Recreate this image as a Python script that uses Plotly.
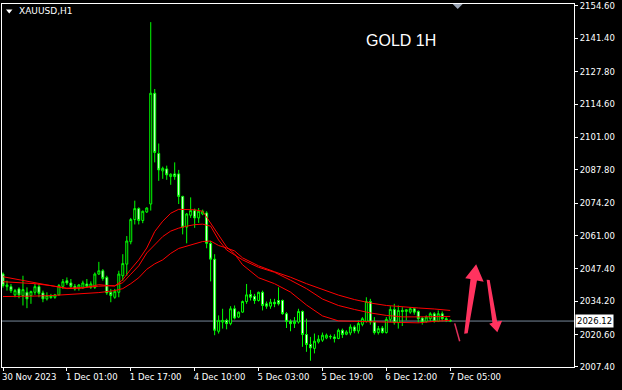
import plotly.graph_objects as go

# ---------------- data ----------------
tick_labels = ["30 Nov 2023", "1 Dec 01:00", "1 Dec 17:00", "4 Dec 10:00",
               "5 Dec 03:00", "5 Dec 19:00", "6 Dec 12:00", "7 Dec 05:00"]

opens = [2045.29, 2040.15, 2040.15, 2036.80, 2039.22, 2036.51, 2037.85, 2036.51, 2037.85, 2040.15,
         2037.60, 2035.18, 2035.70, 2035.82, 2036.80, 2040.27, 2042.58, 2041.65, 2040.27, 2039.46,
         2039.87, 2041.24, 2039.87, 2039.87, 2045.29, 2046.62, 2043.91, 2037.85, 2035.82, 2037.85,
         2044.60, 2049.33, 2058.47, 2067.53, 2071.98, 2067.13, 2070.60, 2073.84, 2119.01, 2094.46,
         2087.35, 2088.15, 2085.04, 2086.13, 2086.13, 2076.95, 2064.42, 2069.27, 2071.17, 2068.18,
         2069.79, 2070.20, 2057.82, 2051.35, 2021.95, 2025.71, 2026.40, 2025.07, 2031.13, 2027.74,
         2029.76, 2034.09, 2036.92, 2036.23, 2034.49, 2037.85, 2033.15, 2032.18, 2033.80, 2034.49,
         2034.49, 2029.11, 2026.00, 2025.07, 2025.71, 2030.04, 2020.62, 2016.58, 2014.96, 2017.63,
         2018.31, 2019.24, 2019.65, 2019.65, 2019.00, 2022.36, 2020.74, 2021.27, 2023.69, 2022.07,
         2024.78, 2026.00, 2034.09, 2025.71, 2021.43, 2023.29, 2021.43, 2026.81, 2030.85, 2025.47,
         2030.45, 2030.04, 2029.76, 2031.13, 2030.04, 2027.33, 2026.00, 2027.09, 2029.11, 2026.00,
         2029.11, 2027.09, 2026.40]
highs = [2045.93, 2042.58, 2041.24, 2039.22, 2039.87, 2044.60, 2039.87, 2038.53, 2041.24, 2041.24,
         2038.53, 2037.85, 2037.20, 2037.20, 2041.24, 2043.27, 2043.91, 2043.27, 2041.24, 2041.24,
         2042.58, 2043.27, 2042.29, 2045.93, 2050.26, 2047.31, 2044.60, 2039.22, 2039.22, 2046.62,
         2053.38, 2060.78, 2068.18, 2075.21, 2072.50, 2071.17, 2072.50, 2148.01, 2120.75, 2098.51,
         2089.08, 2089.49, 2086.38, 2090.82, 2087.75, 2077.20, 2070.20, 2076.55, 2071.98, 2072.22,
         2071.57, 2070.89, 2058.75, 2053.38, 2028.42, 2031.13, 2027.09, 2032.18, 2032.47, 2030.04,
         2034.49, 2041.24, 2038.82, 2037.20, 2038.13, 2038.53, 2034.09, 2035.18, 2035.18, 2039.87,
         2034.89, 2029.76, 2026.81, 2027.74, 2031.13, 2030.45, 2027.09, 2019.65, 2021.02, 2020.34,
         2021.43, 2021.02, 2020.62, 2020.74, 2023.05, 2023.05, 2022.36, 2024.78, 2024.38, 2026.40,
         2027.74, 2035.82, 2035.18, 2027.74, 2024.10, 2024.10, 2027.74, 2032.18, 2033.15, 2032.47,
         2031.78, 2030.85, 2031.78, 2031.38, 2030.45, 2027.74, 2028.42, 2029.76, 2029.76, 2030.45,
         2030.04, 2027.74, 2026.81]
lows = [2039.75, 2038.53, 2037.60, 2035.82, 2035.42, 2032.47, 2031.38, 2033.15, 2036.80, 2035.82,
        2033.80, 2034.49, 2035.18, 2035.18, 2036.51, 2039.22, 2040.84, 2039.22, 2038.53, 2038.53,
        2039.22, 2039.87, 2039.22, 2039.22, 2044.88, 2042.58, 2036.80, 2033.80, 2035.18, 2035.82,
        2042.58, 2044.60, 2057.42, 2065.51, 2065.51, 2066.03, 2070.20, 2071.17, 2090.82, 2083.30,
        2084.11, 2083.71, 2081.68, 2083.71, 2073.84, 2061.46, 2057.82, 2068.18, 2064.13, 2066.16,
        2069.27, 2055.80, 2042.29, 2020.34, 2021.02, 2023.05, 2022.76, 2024.38, 2026.81, 2027.33,
        2029.51, 2033.15, 2034.49, 2033.15, 2034.09, 2030.45, 2031.13, 2031.13, 2031.78, 2032.47,
        2028.71, 2023.29, 2021.95, 2023.29, 2025.07, 2015.61, 2013.58, 2009.94, 2012.94, 2016.98,
        2017.63, 2018.72, 2018.72, 2017.38, 2018.72, 2019.24, 2020.34, 2020.34, 2021.14, 2021.02,
        2023.98, 2025.47, 2024.66, 2020.62, 2020.62, 2021.02, 2021.02, 2025.71, 2024.66, 2023.05,
        2024.10, 2026.40, 2029.11, 2028.71, 2025.47, 2024.66, 2025.47, 2026.00, 2025.47, 2025.71,
        2026.00, 2025.71, 2025.71]
closes = [2040.56, 2040.84, 2038.53, 2038.53, 2036.80, 2038.94, 2035.18, 2038.13, 2040.15, 2037.44,
          2035.18, 2036.51, 2036.51, 2036.80, 2040.56, 2042.17, 2041.65, 2040.27, 2039.22, 2040.84,
          2041.65, 2040.27, 2041.24, 2045.29, 2046.62, 2043.51, 2037.60, 2036.51, 2038.25, 2045.29,
          2049.57, 2058.75, 2067.53, 2071.98, 2067.13, 2070.89, 2072.22, 2119.01, 2094.87, 2087.75,
          2088.40, 2085.73, 2085.97, 2085.04, 2076.95, 2064.42, 2069.79, 2071.17, 2068.18, 2070.89,
          2070.89, 2057.82, 2051.35, 2022.36, 2026.40, 2026.40, 2025.07, 2031.13, 2027.33, 2029.76,
          2034.09, 2036.80, 2035.82, 2034.49, 2037.85, 2032.47, 2032.18, 2033.80, 2033.15, 2033.15,
          2029.11, 2026.00, 2025.07, 2026.00, 2030.04, 2020.62, 2016.58, 2015.20, 2017.91, 2018.72,
          2020.34, 2020.34, 2019.81, 2019.00, 2022.36, 2020.62, 2021.67, 2023.69, 2022.07, 2025.07,
          2027.09, 2034.09, 2025.71, 2021.43, 2023.05, 2021.43, 2026.81, 2030.85, 2025.47, 2030.45,
          2030.04, 2030.73, 2031.13, 2029.76, 2027.09, 2025.71, 2027.74, 2029.11, 2026.00, 2029.11,
          2027.09, 2026.40, 2026.12]

# moving-average lines at these bar indices
ma_idx = [0, 4, 8, 12, 16, 20, 24, 28, 30, 32, 34, 36, 38, 40, 42, 44, 46, 48, 50, 52, 54, 56, 58, 60,
          64, 68, 72, 76, 80, 84, 88, 92, 96, 100, 104, 108, 112]
ma_fast = [2044.20, 2042.98, 2041.97, 2040.56, 2039.34, 2039.54, 2040.96, 2040.35, 2042.98, 2047.23,
           2051.07, 2055.92, 2062.60, 2066.84, 2070.08, 2071.69, 2071.69, 2071.49, 2070.89, 2066.03,
           2060.78, 2056.33, 2053.50, 2049.05, 2043.79, 2041.36, 2037.93, 2032.67, 2028.22, 2026.20,
           2026.00, 2025.80, 2025.59, 2025.39, 2025.39, 2026.00, 2026.40]
ma_mid = [2042.17, 2041.77, 2041.36, 2040.56, 2039.54, 2039.75, 2040.35, 2040.56, 2041.77, 2045.21,
          2048.64, 2053.90, 2057.14, 2060.57, 2062.80, 2064.01, 2064.82, 2065.43, 2065.63, 2064.82,
          2059.16, 2055.11, 2053.09, 2051.07, 2048.04, 2046.02, 2042.78, 2039.34, 2035.10, 2032.47,
          2030.85, 2029.43, 2028.42, 2027.82, 2027.82, 2027.82, 2028.02]
ma_slow = [2036.11, 2036.11, 2036.31, 2036.51, 2036.92, 2037.32, 2037.73, 2038.53, 2039.34, 2041.36,
           2043.79, 2047.23, 2049.45, 2051.07, 2053.70, 2055.72, 2056.73, 2057.54, 2058.55, 2058.75,
           2056.93, 2055.92, 2054.71, 2051.88, 2048.64, 2046.22, 2043.99, 2041.36, 2038.94, 2036.71,
           2034.89, 2033.48, 2032.47, 2031.86, 2031.45, 2031.05, 2030.45]

price_ticks = [2007.40, 2020.60, 2034.20, 2047.40, 2061.00, 2074.20, 2087.80, 2101.00,
               2114.60, 2127.80, 2141.40, 2154.60]
bid_price = 2026.12
symbol_text = "XAUUSD,H1"
title_text = "GOLD 1H"

# ---------------- layout helpers ----------------
W, H = 622, 390
ML, MR, MT, MB = 1, 48, 1, 23
PW, PH = W - ML - MR, H - MT - MB
BARS_PER_TICK = 16
x = list(range(len(opens)))
tick_pos = [i * BARS_PER_TICK for i in range(len(tick_labels))]


def paper(xp, yp):
    return (xp - ML) / PW, (H - MB - yp) / PH


def poly(points):
    s = ""
    for k, (xp, yp) in enumerate(points):
        px_, py_ = paper(xp, yp)
        s += ("M" if k == 0 else "L") + f"{px_:.5f},{py_:.5f} "
    return s + "Z"


GREEN = "#00ff00"
RED = "#ff0000"
PINK = "#ff335f"
FONT = "DejaVu Sans"

fig = go.Figure()
fig.add_trace(go.Candlestick(
    x=x, open=opens, high=highs, low=lows, close=closes,
    increasing=dict(line=dict(color=GREEN, width=1), fillcolor="#000000"),
    decreasing=dict(line=dict(color=GREEN, width=1), fillcolor="#ffffff"),
    whiskerwidth=0, showlegend=False, hoverinfo="skip"))

for ser in (ma_slow, ma_mid, ma_fast):
    fig.add_trace(go.Scatter(x=ma_idx, y=ser, mode="lines",
                             line=dict(color=RED, width=1), showlegend=False,
                             hoverinfo="skip"))

shapes = [
    dict(type="line", xref="paper", yref="y", x0=0, x1=1, y0=bid_price, y1=bid_price,
         line=dict(color="#778899", width=1), layer="below"),
    # up arrow
    dict(type="path", xref="paper", yref="paper", fillcolor=PINK, line=dict(width=0),
         path=poly([(464.0, 333.5), (470.3, 278.4), (465.0, 277.5), (476.0, 263.5),
                    (483.5, 281.0), (476.8, 279.8), (467.5, 333.0)])),
    # down arrow
    dict(type="path", xref="paper", yref="paper", fillcolor=PINK, line=dict(width=0),
         path=poly([(486.5, 279.0), (489.5, 279.3), (497.0, 321.2), (502.0, 320.3),
                    (497.2, 332.0), (489.0, 323.5), (492.3, 322.3)])),
]
# thin stroke
x0p, y0p = paper(454.5, 323.0)
x1p, y1p = paper(459.5, 341.0)
shapes.append(dict(type="line", xref="paper", yref="paper", x0=x0p, y0=y0p, x1=x1p, y1=y1p,
                   line=dict(color="#e0305a", width=1.5)))
# chart shift marker at top
shapes.append(dict(type="path", xref="paper", yref="paper", fillcolor="#9aa4b4",
                   line=dict(width=0),
                   path=poly([(452.5, 1.0), (462.5, 1.0), (457.5, 6.0)])))
# small white triangle before symbol
shapes.append(dict(type="path", xref="paper", yref="paper", fillcolor="#ffffff",
                   line=dict(width=0),
                   path=poly([(5.0, 6.5), (11.5, 6.5), (8.25, 10.5)])))

sx, sy = paper(16, 8.5)
tx, ty = paper(401, 38)
bx, _ = paper(575.5, 0)
annotations = [
    dict(xref="paper", yref="paper", x=sx, y=sy, text=symbol_text, showarrow=False,
         xanchor="left", yanchor="middle", font=dict(family=FONT, size=9, color="#ffffff")),
    dict(xref="paper", yref="paper", x=tx, y=ty, text=title_text, showarrow=False,
         xanchor="center", yanchor="middle",
         font=dict(family="Liberation Sans, Arial", size=16, color="#ffffff")),
    dict(xref="paper", yref="y", x=bx, y=bid_price, text=f"{bid_price:.2f}", showarrow=False,
         xanchor="left", yanchor="middle", bgcolor="#ffffff", borderpad=1,
         font=dict(family=FONT, size=8.5, color="#000000")),
]

ylo = 2155.81 - 0.4044 * (H - MB)
yhi = 2155.81 - 0.4044 * MT

fig.update_layout(
    width=W, height=H, margin=dict(l=ML, r=MR, t=MT, b=MB),
    paper_bgcolor="#000000", plot_bgcolor="#000000",
    showlegend=False, hovermode=False,
    shapes=shapes, annotations=annotations,
    xaxis=dict(range=[-0.25, 143], tickmode="array", tickvals=tick_pos, ticktext=tick_labels,
               ticks="outside", ticklen=3, tickcolor="#ffffff", ticklabelposition="outside right",
               ticklabelshift=-2, ticklabelstandoff=2,
               showgrid=False, zeroline=False, showline=True, linecolor="#ffffff",
               linewidth=1, mirror=True, rangeslider=dict(visible=False),
               tickfont=dict(family=FONT, size=8.5, color="#ffffff")),
    yaxis=dict(range=[ylo - 0.01, yhi], side="right", tickmode="array", tickvals=price_ticks,
               ticktext=[f"{v:.2f}" for v in price_ticks], ticks="outside", ticklen=3,
               ticklabeloverflow="allow", ticklabelshift=0,
               tickcolor="#ffffff", showgrid=False, zeroline=False, showline=True,
               linecolor="#ffffff", linewidth=1, mirror=True,
               tickfont=dict(family=FONT, size=8.5, color="#ffffff")),
)

fig.write_html("out.html")
